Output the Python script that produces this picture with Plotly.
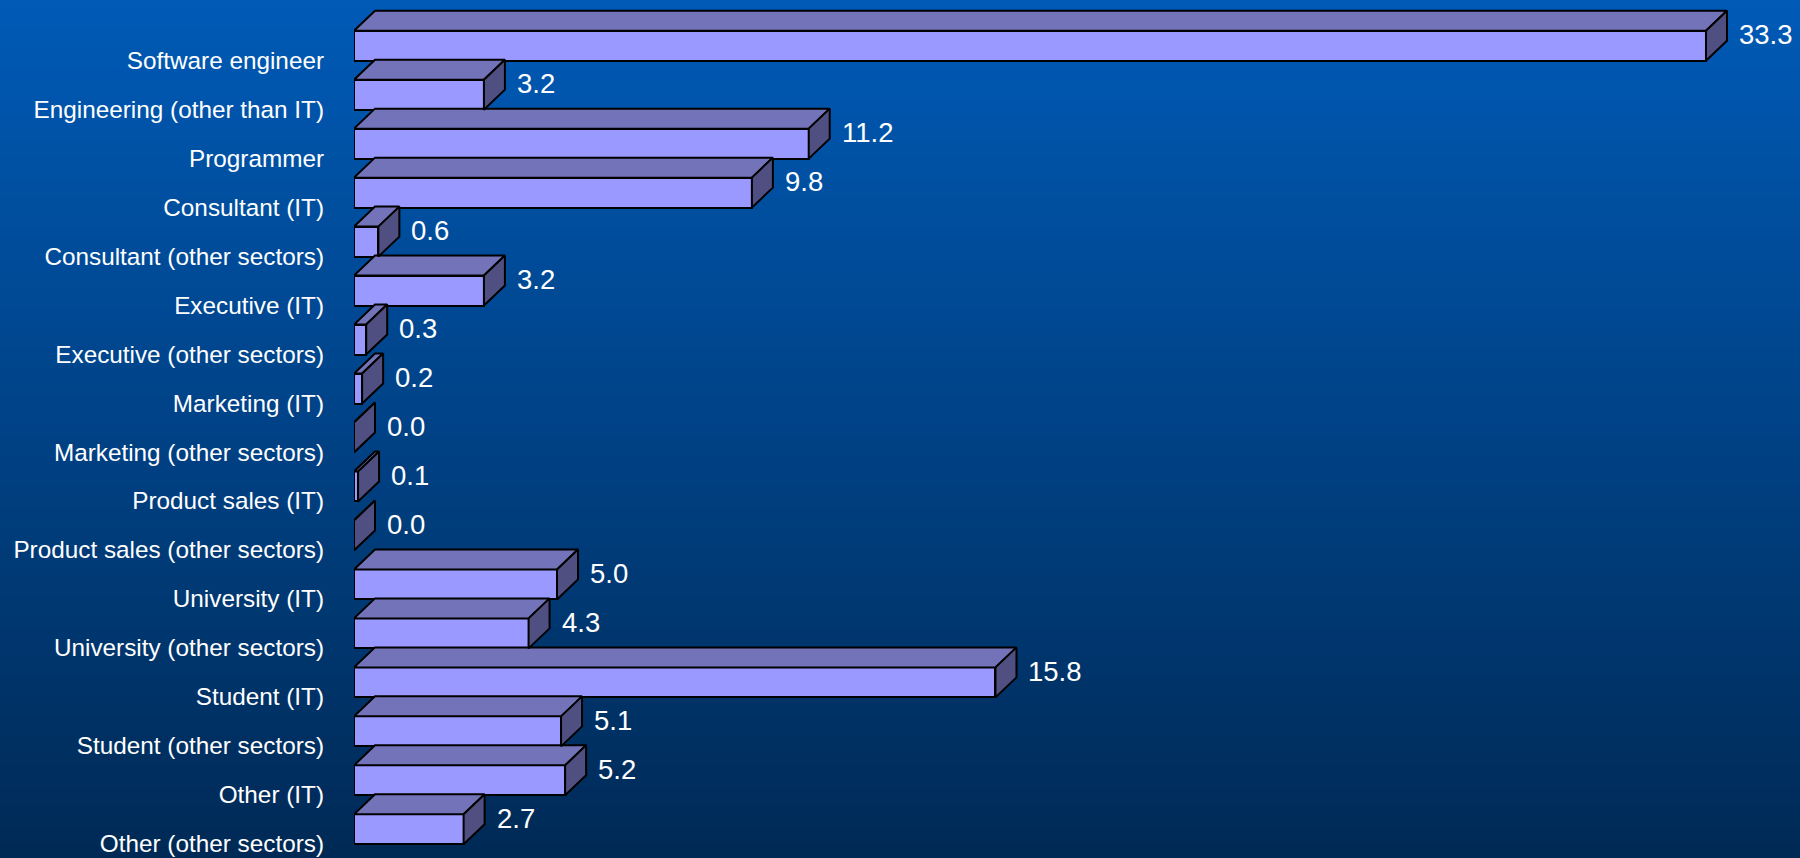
import plotly.graph_objects as go

# ---- data ----
categories = [
    "Software engineer", "Engineering (other than IT)", "Programmer", "Consultant (IT)",
    "Consultant (other sectors)", "Executive (IT)", "Executive (other sectors)", "Marketing (IT)",
    "Marketing (other sectors)", "Product sales (IT)", "Product sales (other sectors)",
    "University (IT)", "University (other sectors)", "Student (IT)", "Student (other sectors)",
    "Other (IT)", "Other (other sectors)",
]
values = [33.3, 3.2, 11.2, 9.8, 0.6, 3.2, 0.3, 0.2, 0.0, 0.1, 0.0, 5.0, 4.3, 15.8, 5.1, 5.2, 2.7]
value_labels = [f"{v:.1f}" for v in values]

# ---- style / geometry ----
W, H = 1800, 858
ML = 354
PX_PER_UNIT = 40.6
ROW_PX = 48.975
FIRST_CENTER_PX = 45.7
FRONT_PX = 30
DEPTH_X_PX, DEPTH_Y_PX = 21, 20

plot_w = W - ML
xmax = plot_w / PX_PER_UNIT
y_top = -FIRST_CENTER_PX / ROW_PX
y_bot = (H - FIRST_CENTER_PX) / ROW_PX
bw = FRONT_PX / ROW_PX
h = bw / 2
dx = DEPTH_X_PX / PX_PER_UNIT
dy = -DEPTH_Y_PX / ROW_PX
label_off = 14.5 / ROW_PX

FRONT = "#9999FF"
TOP = "#7373B9"
SIDE = "#4F4F82"
EDGE = "#000000"
FONT = "Liberation Sans, Arial, sans-serif"

ypos = list(range(len(categories)))

fig = go.Figure()

# front faces
fig.add_trace(go.Bar(
    x=values, y=ypos, orientation="h", width=bw, base=0,
    marker=dict(color=FRONT, line=dict(color=EDGE, width=2)),
    hoverinfo="skip", showlegend=False,
))

# top and side faces (bottom bar first)
for i in reversed(range(len(values))):
    v = values[i]
    yt = ypos[i] - h
    yb = ypos[i] + h
    fig.add_trace(go.Scatter(
        x=[0, v, v + dx, dx, 0], y=[yt, yt, yt + dy, yt + dy, yt],
        mode="lines", fill="toself", fillcolor=TOP,
        line=dict(color=EDGE, width=2), hoverinfo="skip", showlegend=False,
    ))
    fig.add_trace(go.Scatter(
        x=[v, v + dx, v + dx, v, v], y=[yt, yt + dy, yb + dy, yb, yt],
        mode="lines", fill="toself", fillcolor=SIDE,
        line=dict(color=EDGE, width=2), hoverinfo="skip", showlegend=False,
    ))

# value labels
for i, (v, t) in enumerate(zip(values, value_labels)):
    fig.add_annotation(
        x=v + dx, y=ypos[i] + dy / 2, text=t, showarrow=False,
        xanchor="left", yanchor="middle", xshift=10, yshift=1,
        font=dict(size=27.5, color="white", family=FONT),
    )

# gradient background
N = 86
c0 = (0, 90, 182)
c1 = (0, 42, 86)
shapes = []
for k in range(N):
    t = k / (N - 1)
    c = tuple(round(c0[j] + (c1[j] - c0[j]) * t) for j in range(3))
    shapes.append(dict(
        type="rect", xref="paper", yref="paper", layer="below",
        x0=-0.3, x1=1.05, y0=1 - (k + 1) / N, y1=1 - k / N + 0.002,
        fillcolor=f"rgb{c}", line=dict(width=0),
    ))

fig.update_layout(
    width=W, height=H,
    margin=dict(l=ML, r=0, t=0, b=0),
    paper_bgcolor="rgb(0,66,134)",
    plot_bgcolor="rgba(0,0,0,0)",
    shapes=shapes,
    bargap=0,
    showlegend=False,
    font=dict(family=FONT, color="white"),
    xaxis=dict(range=[0, xmax], visible=False, fixedrange=True),
    yaxis=dict(
        range=[y_bot, y_top], autorange=False,
        tickmode="array",
        tickvals=[p + label_off for p in ypos],
        ticktext=categories,
        ticks="", showgrid=False, zeroline=False, showline=False,
        tickfont=dict(size=24.3, color="white", family=FONT),
        ticklabelstandoff=29,
    ),
)

fig.write_html(
    "out.html",
    config={"displayModeBar": False},
    post_script="document.body.style.margin='0';document.body.style.padding='0';"
                "document.body.style.overflow='hidden';",
)
